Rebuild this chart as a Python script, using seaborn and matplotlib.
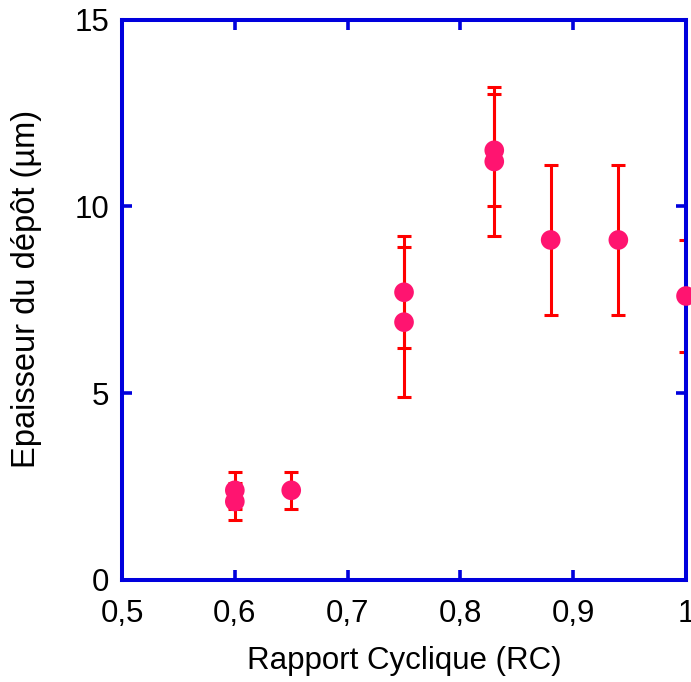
import pandas as pd
import matplotlib
matplotlib.use("Agg")
import matplotlib.pyplot as plt
import seaborn as sns

# Data
rc = [0.6, 0.6, 0.65, 0.75, 0.75, 0.83, 0.83, 0.88, 0.94, 1.0]
epaisseur = [2.4, 2.1, 2.4, 7.7, 6.9, 11.5, 11.2, 9.1, 9.1, 7.6]
erreur = [0.5, 0.5, 0.5, 1.5, 2.0, 1.5, 2.0, 2.0, 2.0, 1.5]

x_ticks = [0.5, 0.6, 0.7, 0.8, 0.9, 1.0]
x_labels = ['0,5', '0,6', '0,7', '0,8', '0,9', '1']
y_ticks = [0, 5, 10, 15]

df = pd.DataFrame({'RC': rc, 'Epaisseur': epaisseur, 'Erreur': erreur})

sns.set_style("white")
plt.rcParams['font.family'] = ['Liberation Sans', 'DejaVu Sans']
plt.rcParams['text.color'] = 'black'
plt.rcParams['axes.labelcolor'] = 'black'
plt.rcParams['xtick.labelcolor'] = 'black'
plt.rcParams['ytick.labelcolor'] = 'black'

blue = '#0000DD'

fig = plt.figure(figsize=(6.91, 6.82), dpi=100)
ax = fig.add_axes([0.1766, 0.1496, 0.8162, 0.8218])

# error bars (under the frame)
ax.errorbar(df['RC'], df['Epaisseur'], yerr=df['Erreur'], fmt='none',
            ecolor='#FF0000', elinewidth=2.2, capsize=5, capthick=2.2,
            zorder=2)

# points
sns.scatterplot(data=df, x='RC', y='Epaisseur', ax=ax, s=200,
                color='#FF1470', edgecolor='none', linewidth=0,
                zorder=4, clip_on=False)

ax.set_xlim(0.5, 1.0)
ax.set_ylim(0, 15)
ax.set_xticks(x_ticks)
ax.set_xticklabels(x_labels)
ax.set_yticks(y_ticks)

for side in ['left', 'right', 'top', 'bottom']:
    ax.spines[side].set_visible(True)
    ax.spines[side].set_color(blue)
    ax.spines[side].set_linewidth(2.9)
    ax.spines[side].set_zorder(3)

ax.tick_params(axis='both', which='major', direction='in', length=7.5,
               width=2.6, color=blue, labelsize=22.5,
               top=True, right=True, bottom=True, left=True)
ax.tick_params(axis='x', pad=14)
ax.tick_params(axis='y', pad=9)

ax.set_xlabel('Rapport Cyclique (RC)', fontsize=22.5, labelpad=12)
ax.set_ylabel('Epaisseur du dépôt (µm)', fontsize=23.5)
ax.yaxis.set_label_coords(-0.142, 0.52)

fig.savefig('out.png', dpi=100)
plt.close(fig)
